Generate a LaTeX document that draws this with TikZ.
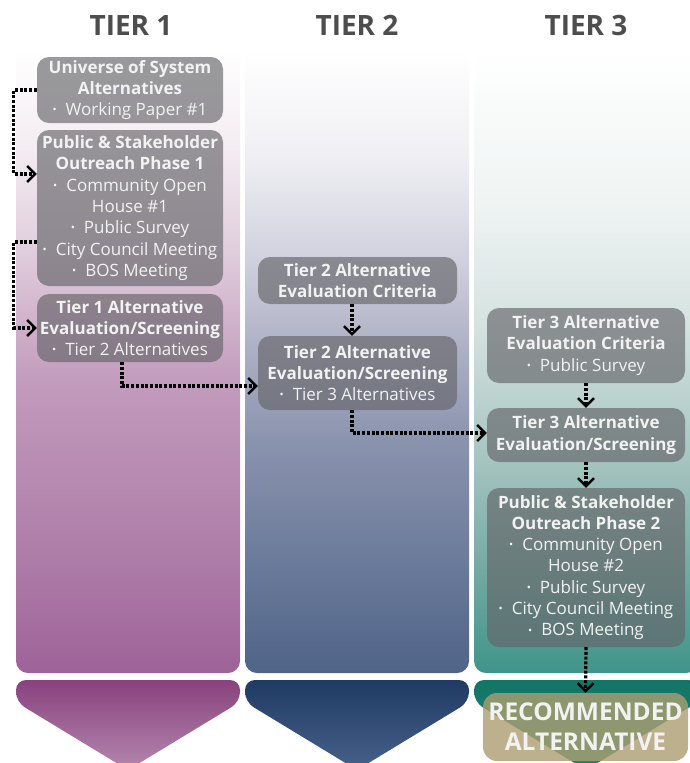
\documentclass[tikz,border=0pt]{standalone}
\usepackage{fontspec}
\setmainfont{Open Sans}
\usetikzlibrary{arrows.meta}

% colours
\definecolor{headgray}{RGB}{77,77,77}
\definecolor{boxgray}{RGB}{100,100,104}
\definecolor{boxtext}{RGB}{242,242,242}
\definecolor{tan}{RGB}{172,158,112}
\definecolor{chevAtop}{RGB}{136,66,127}
\definecolor{chevAbot}{RGB}{180,135,173}
\definecolor{chevBtop}{RGB}{31,58,99}
\definecolor{chevBbot}{RGB}{71,97,139}
\definecolor{chevCtop}{RGB}{19,117,102}
\definecolor{chevCbot}{RGB}{30,130,115}

% column fills, fading to white at the top
\pgfdeclareverticalshading{colAshade}{100bp}{%
  rgb(0bp)=(0.620,0.388,0.600); rgb(25bp)=(0.620,0.388,0.600);
  rgb(34bp)=(0.678,0.486,0.655); rgb(48.4bp)=(0.761,0.608,0.741);
  rgb(58.8bp)=(0.878,0.804,0.863); rgb(66.8bp)=(0.953,0.922,0.945);
  rgb(75bp)=(1,1,1); rgb(100bp)=(1,1,1)}
\pgfdeclareverticalshading{colBshade}{100bp}{%
  rgb(0bp)=(0.310,0.392,0.533); rgb(25bp)=(0.310,0.392,0.533);
  rgb(43.6bp)=(0.541,0.576,0.682); rgb(52.4bp)=(0.706,0.714,0.788);
  rgb(58.8bp)=(0.827,0.827,0.878); rgb(66.8bp)=(0.941,0.941,0.957);
  rgb(75bp)=(1,1,1); rgb(100bp)=(1,1,1)}
\pgfdeclareverticalshading{colCshade}{100bp}{%
  rgb(0bp)=(0.247,0.584,0.541); rgb(25bp)=(0.247,0.584,0.541);
  rgb(34bp)=(0.471,0.671,0.643); rgb(42bp)=(0.647,0.769,0.753);
  rgb(53.2bp)=(0.839,0.890,0.882); rgb(62.8bp)=(0.937,0.957,0.953);
  rgb(75bp)=(1,1,1); rgb(100bp)=(1,1,1)}

\newcommand\itm{\raisebox{1.8pt}{\fontsize{11}{11}\selectfont\textbullet}\hspace{9pt}}

\tikzset{
  stepbox/.style={fill=boxgray, fill opacity=0.65, text opacity=1,
    rounded corners=12pt, inner sep=0pt, text=boxtext, align=center,
    font=\fontsize{17}{21.3}\selectfont},
  tierhead/.style={text=headgray, font=\fontsize{28}{34}\selectfont\bfseries},
  conn/.style={draw=black, line width=3.2pt, dash pattern=on 3pt off 1.7pt,
    -{Straight Barb[length=8pt,width=16pt,line width=2.4pt]}},
  column/.style={rounded corners=12pt},
  chevron/.style={rounded corners=10pt, shading=axis},
}

\begin{document}
\begin{tikzpicture}[x=1pt,y=-1pt]
\useasboundingbox (0,0) rectangle (689,763);

% columns
\shade[column, shading=colAshade] (16,50) rectangle (240,673);
\shade[column, shading=colBshade] (245,50) rectangle (469,673);
\shade[column, shading=colCshade] (474,50) rectangle (698,673);

% chevrons under the columns
\shade[chevron, top color=chevAtop, bottom color=chevAbot]
  (16,702) -- (16,680) -- (240,680) -- (240,702) -- (128,770) -- cycle;
\shade[chevron, top color=chevBtop, bottom color=chevBbot]
  (245,702) -- (245,680) -- (469,680) -- (469,702) -- (357,770) -- cycle;
\shade[chevron, top color=chevCtop, bottom color=chevCbot]
  (474,702) -- (474,680) -- (698,680) -- (698,702) -- (586,770) -- cycle;

% headings
\node[tierhead, anchor=base] (h1) at (131,35) {TIER 1};
\node[tierhead, anchor=base] (h2) at (357,35) {TIER 2};
\node[tierhead, anchor=base] (h3) at (586,35) {TIER 3};

% tier 1
\node[stepbox, minimum width=186pt, minimum height=66pt] (A) at (130,90)
  {\textbf{Universe of System}\\\textbf{Alternatives}\\\itm Working Paper \#1};
\node[stepbox, minimum width=186pt, minimum height=156pt] (B) at (130,208)
  {\textbf{Public \& Stakeholder}\\\textbf{Outreach Phase 1}\\\itm Community Open\\House \#1\\\itm Public Survey\\\itm City Council Meeting\\\itm BOS Meeting};
\node[stepbox, minimum width=186pt, minimum height=68pt] (C) at (130,328)
  {\textbf{Tier 1 Alternative}\\\textbf{Evaluation/Screening}\\\itm Tier 2 Alternatives};

% tier 2
\node[stepbox, minimum width=199pt, minimum height=47pt] (D) at (357.5,280.5)
  {\textbf{Tier 2 Alternative}\\\textbf{Evaluation Criteria}};
\node[stepbox, minimum width=199pt, minimum height=74pt] (E) at (357.5,373)
  {\textbf{Tier 2 Alternative}\\\textbf{Evaluation/Screening}\\\itm Tier 3 Alternatives};

% tier 3
\node[stepbox, minimum width=198pt, minimum height=75pt] (F) at (586,345.5)
  {\textbf{Tier 3 Alternative}\\\textbf{Evaluation Criteria}\\\itm Public Survey};
\node[stepbox, minimum width=198pt, minimum height=54pt] (G) at (586,435)
  {\textbf{Tier 3 Alternative}\\\textbf{Evaluation/Screening}};
\node[stepbox, minimum width=198pt, minimum height=159pt] (H) at (586,567.5)
  {\textbf{Public \& Stakeholder}\\\textbf{Outreach Phase 2}\\\itm Community Open\\House \#2\\\itm Public Survey\\\itm City Council Meeting\\\itm BOS Meeting};

% result
\node[fill=tan, fill opacity=0.8, text opacity=1, rounded corners=14pt,
  minimum width=205pt, minimum height=68pt, inner sep=0pt, text=boxtext,
  align=center, font=\fontsize{24.5}{30}\selectfont\bfseries] (R) at (585.5,727)
  {RECOMMENDED\\ALTERNATIVE};

% connectors
\draw[conn] (A.west) -- ++(-23,0) |- (B.west |- 0,174);
\draw[conn] (B.west |- 0,242) -- ++(-23,0) |- (C.west);
\draw[conn] (C.south -| 122,0) |- (E.west |- 0,386);
\draw[conn] (D.south -| 352,0) -- (E.north -| 352,0);
\draw[conn] (E.south -| 352,0) |- (G.west |- 0,433);
\draw[conn] (F.south) -- (G.north);
\draw[conn] (G.south) -- (H.north);
\draw[conn] (H.south) -- (R.north);
\end{tikzpicture}
\end{document}
